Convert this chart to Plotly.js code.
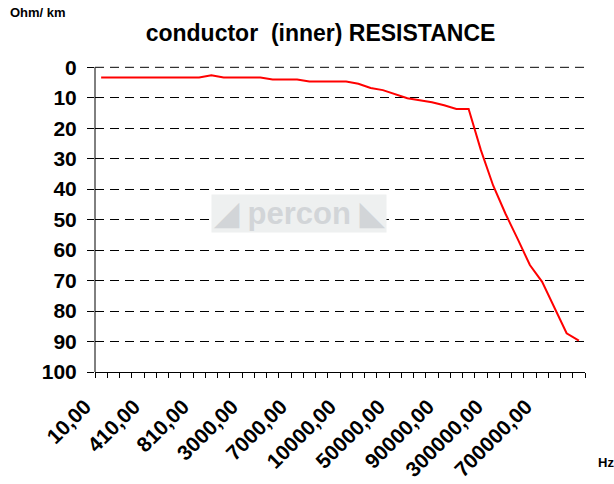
<!DOCTYPE html>
<html>
<head>
<meta charset="utf-8">
<script src="https://cdn.plot.ly/plotly-3.0.1.min.js"></script>
<style>html,body{margin:0;padding:0;background:#fff;}#chart{width:614px;height:484px;}</style>
</head>
<body>
<div id="chart"></div>
<script>
// Frequencies (Hz) – category axis
const frequencies = [10,110,210,310,410,510,610,710,810,910,
  1000,2000,3000,4000,5000,6000,7000,8000,9000,9500,
  10000,20000,30000,40000,50000,60000,70000,80000,90000,100000,
  150000,200000,300000,400000,500000,600000,700000,800000,900000,1000000];
// Conductor (inner) resistance, Ohm/km
const resistance = [3.4,3.4,3.4,3.4,3.4,3.4,3.4,3.4,3.4,2.6,
  3.4,3.4,3.4,3.4,4.0,4.0,4.0,4.7,4.7,4.7,
  4.7,5.4,6.8,7.5,8.9,10.2,10.8,11.5,12.5,13.7,
  13.7,27.2,38.8,48.0,56.3,64.9,70.4,78.6,87.3,89.7];
const labelEvery = 4;
const yTickStep = 10;
const yMin = 0;

const catLabels = frequencies.map(f => f + ",00");
const tickText = catLabels.map((c,i) => (i % labelEvery === 0 ? c : ""));

const FONT = "Liberation Sans, Arial, sans-serif";
const GRID_DASH = "9px,6px";

const trace = {
  x: catLabels,
  y: resistance,
  type: "scatter",
  mode: "lines",
  line: {color: "#ff0000", width: 2},
  hoverinfo: "x+y"
};

const layout = {
  width: 614, height: 484,
  margin: {l: 95, r: 29, t: 52, b: 112, pad: 0},
  paper_bgcolor: "#ffffff",
  plot_bgcolor: "rgba(0,0,0,0)",
  showlegend: false,
  font: {family: FONT, color: "#000000"},
  title: {
    text: "conductor  (inner) RESISTANCE",
    font: {family: FONT, size: 23, weight: "bold", color: "#000"},
    xref: "container", yref: "container",
    x: 0.522, y: 0.932, xanchor: "center", yanchor: "middle"
  },
  xaxis: {
    type: "category",
    categoryorder: "array",
    categoryarray: catLabels,
    range: [-0.5, frequencies.length - 0.5],
    tickmode: "array",
    tickvals: catLabels,
    ticktext: tickText,
    tickson: "boundaries",
    ticks: "outside",
    ticklen: 5,
    tickcolor: "#000",
    tickwidth: 1,
    tickangle: -45,
    tickfont: {family: FONT, size: 21, weight: "bold", color: "#000"},
    ticklabelshift: -16,
    ticklabelstandoff: 13,
    showline: true, linecolor: "#000", linewidth: 1,
    showgrid: false, zeroline: false,
    fixedrange: true
  },
  yaxis: {
    range: [100, -5],
    tickmode: "linear",
    tick0: yMin,
    dtick: yTickStep,
    ticks: "outside",
    ticklen: 7,
    tickcolor: "#000",
    tickwidth: 1,
    tickfont: {family: FONT, size: 21, weight: "bold", color: "#000"},
    ticklabelstandoff: 6,
    showline: false,
    showgrid: true, gridcolor: "#000", gridwidth: 1, griddash: GRID_DASH,
    zeroline: false,
    fixedrange: true
  },
  shapes: [
    {type: "line", xref: "paper", yref: "y", x0: 0, x1: 0, y0: yMin, y1: 100,
     layer: "above", line: {color: "#000", width: 1}},
    {type: "line", xref: "paper", yref: "y", x0: 0, x1: 1, y0: yMin, y1: yMin,
     layer: "above", line: {color: "#444444", width: 1.2, dash: GRID_DASH}}
  ],
  annotations: [
    {text: "Ohm/ km", xref: "paper", yref: "paper", x: -0.178, y: 1.124,
     xanchor: "left", yanchor: "middle", showarrow: false,
     font: {family: FONT, size: 13, weight: "bold", color: "#000"}},
    {text: "Hz", xref: "paper", yref: "paper", x: 1.022, y: -0.284,
     xanchor: "left", yanchor: "middle", showarrow: false,
     font: {family: FONT, size: 13, weight: "bold", color: "#000"}},
    {text: "◢ percon ◣", xref: "paper", yref: "paper", x: 0.416, y: 0.495,
     xanchor: "center", yanchor: "middle", showarrow: false,
     bgcolor: "#eef0f0", borderpad: 1,
     font: {family: FONT, size: 31, weight: "bold", color: "#d2d5d8"}}
  ]
};

Plotly.newPlot("chart", [trace], layout, {displayModeBar: false, staticPlot: true});
</script>
</body>
</html>
